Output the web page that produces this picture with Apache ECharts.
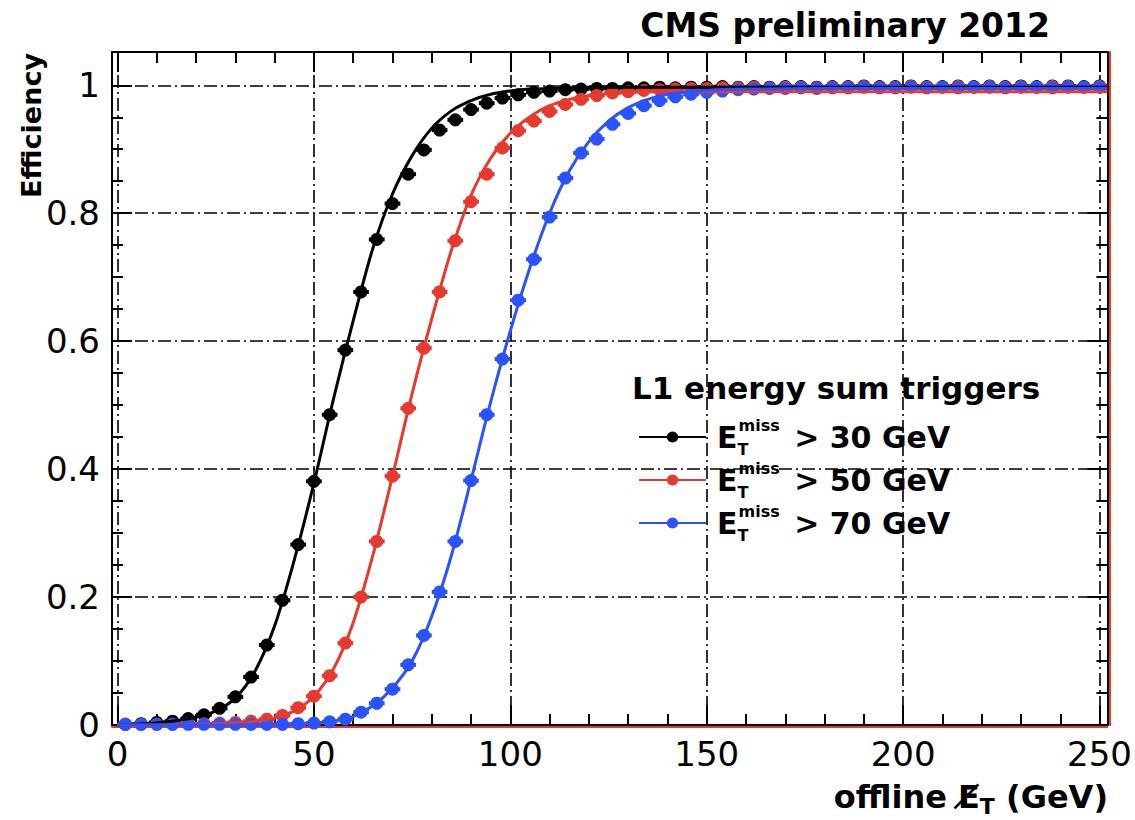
<!DOCTYPE html>
<html>
<head>
<meta charset="utf-8">
<script src="https://cdn.jsdelivr.net/npm/echarts@6.0.0/dist/echarts.min.js"></script>
<style>
  html, body { margin: 0; padding: 0; background: #fff; }
  #chart { width: 1135px; height: 820px; }
</style>
</head>
<body>
<div id="chart"></div>
<script>
// bin centres of the efficiency histograms (4 GeV bins)
var binCenters = [2, 6, 10, 14, 18, 22, 26, 30, 34, 38, 42, 46, 50, 54, 58, 62, 66, 70, 74, 78,
  82, 86, 90, 94, 98, 102, 106, 110, 114, 118, 122, 126, 130, 134, 138, 142, 146, 150, 154, 158,
  162, 166, 170, 174, 178, 182, 186, 190, 194, 198, 202, 206, 210, 214, 218, 222, 226, 230, 234, 238,
  242, 246, 250];
var binHalf = 2;

var effMet30 = [0.001, 0.002, 0.004, 0.006, 0.010, 0.016, 0.026, 0.044, 0.075, 0.125,
  0.195, 0.282, 0.381, 0.485, 0.586, 0.677, 0.759, 0.815, 0.861, 0.899,
  0.930, 0.946, 0.962, 0.972, 0.980, 0.985, 0.989, 0.991, 0.993, 0.994,
  0.995, 0.995, 0.996, 0.996, 0.997, 0.996, 0.997, 0.997, 0.998, 0.997,
  0.998, 0.997, 0.998, 0.998, 0.997, 0.998, 0.998, 0.999, 0.998, 0.998,
  0.999, 0.998, 0.998, 0.999, 0.998, 0.999, 0.998, 0.999, 0.998, 0.999,
  0.999, 0.998, 0.999];
var effMet50 = [0.001, 0.001, 0.001, 0.001, 0.002, 0.002, 0.003, 0.004, 0.006, 0.009,
  0.015, 0.027, 0.045, 0.077, 0.128, 0.200, 0.287, 0.389, 0.495, 0.589,
  0.677, 0.757, 0.818, 0.861, 0.902, 0.929, 0.944, 0.959, 0.970, 0.978,
  0.984, 0.988, 0.990, 0.992, 0.993, 0.994, 0.995, 0.995, 0.996, 0.996,
  0.997, 0.996, 0.997, 0.997, 0.996, 0.997, 0.997, 0.998, 0.997, 0.997,
  0.998, 0.997, 0.997, 0.998, 0.997, 0.998, 0.997, 0.998, 0.997, 0.998,
  0.998, 0.997, 0.998];
var effMet70 = [0.001, 0.001, 0.001, 0.001, 0.001, 0.001, 0.001, 0.001, 0.001, 0.001,
  0.001, 0.002, 0.003, 0.005, 0.009, 0.020, 0.034, 0.056, 0.094, 0.140,
  0.208, 0.287, 0.382, 0.485, 0.572, 0.664, 0.728, 0.794, 0.855, 0.894,
  0.916, 0.939, 0.956, 0.968, 0.976, 0.982, 0.986, 0.989, 0.991, 0.993,
  0.994, 0.995, 0.995, 0.996, 0.995, 0.996, 0.996, 0.997, 0.996, 0.996,
  0.997, 0.996, 0.997, 0.996, 0.997, 0.997, 0.996, 0.997, 0.997, 0.996,
  0.997, 0.997, 0.997];

// fitted turn-on curves
var fitX = [0, 10, 20, 25, 30, 35, 40, 45, 50, 55, 60, 65, 70, 75, 80, 85, 90, 95, 100, 105,
  110, 115, 120, 125, 130, 135, 140, 150, 160, 180, 200, 252];
var fit30 = [0.000, 0.003, 0.012, 0.022, 0.042, 0.084, 0.155, 0.258, 0.378, 0.510,
  0.632, 0.745, 0.830, 0.890, 0.933, 0.960, 0.976, 0.986, 0.991, 0.994,
  0.995, 0.996, 0.997, 0.997, 0.997, 0.997, 0.997, 0.997, 0.997, 0.997, 0.997, 0.997];
var fit50 = [0.000, 0.000, 0.001, 0.002, 0.004, 0.006, 0.011, 0.022, 0.045, 0.088,
  0.160, 0.265, 0.389, 0.518, 0.635, 0.742, 0.828, 0.886, 0.925, 0.951,
  0.968, 0.978, 0.984, 0.987, 0.989, 0.990, 0.990, 0.990, 0.990, 0.990, 0.990, 0.990];
var fit70 = [0.000, 0.000, 0.000, 0.000, 0.000, 0.000, 0.001, 0.001, 0.003, 0.006,
  0.013, 0.030, 0.058, 0.100, 0.170, 0.265, 0.383, 0.505, 0.616, 0.715,
  0.800, 0.866, 0.912, 0.944, 0.965, 0.978, 0.986, 0.992, 0.994, 0.995, 0.995, 0.995];

var thresholds = [30, 50, 70];
var seriesNames = ['ETmiss > 30 GeV', 'ETmiss > 50 GeV', 'ETmiss > 70 GeV'];

var xRange = [-1.4, 252];
var yRange = [0, 1.052];
var xMajor = [0, 50, 100, 150, 200, 250];
var xMinor = [10, 20, 30, 40, 60, 70, 80, 90, 110, 120, 130, 140, 160, 170, 180, 190, 210, 220, 230, 240];
var yMajor = [0, 0.2, 0.4, 0.6, 0.8, 1];
var yMinor = [0.05, 0.1, 0.15, 0.25, 0.3, 0.35, 0.45, 0.5, 0.55, 0.65, 0.7, 0.75, 0.85, 0.9, 0.95];

(function() {
  var font = '"DejaVu Sans", sans-serif';
  var ink = '#000';
  var red = '#e8392e';
  var blue = '#2a52ff';
  var colors = [ink, red, blue];
  var points = [effMet30, effMet50, effMet70];
  var fits = [fit30, fit50, fit70];
  var gridLine = { color: ink, width: 1.6, type: [13, 4, 2, 4] };

  // one axis per tick set (root style: ticks inside on all four sides)
  function frameAxis(dim, pos, ticks, len, opts) {
    var a = {
      type: 'value', position: pos,
      min: dim == 'x' ? xRange[0] : yRange[0],
      max: dim == 'x' ? xRange[1] : yRange[1],
      axisLine: { show: false, onZero: false },
      axisTick: { show: !!ticks, inside: true, length: len, customValues: ticks || [],
        lineStyle: { color: ink, width: 2 } },
      axisLabel: { show: false },
      splitLine: { show: false }
    };
    return Object.assign(a, opts || {});
  }
  function solidLine(color, width) {
    return { show: true, onZero: false, lineStyle: { color: color, width: width } };
  }

  var xAxes = [
    frameAxis('x', 'bottom', xMajor, 20, {
      axisLine: solidLine(ink, 2),
      axisLabel: { show: true, customValues: xMajor, color: ink, fontSize: 34, fontFamily: font, margin: 12 },
      splitLine: { show: true, lineStyle: gridLine }
    }),
    frameAxis('x', 'bottom', xMinor, 11),
    frameAxis('x', 'top', xMajor, 20, { axisLine: solidLine(ink, 2) }),
    frameAxis('x', 'top', xMinor, 11),
    frameAxis('x', 'bottom', null, 0, { offset: 2, axisLine: solidLine(red, 2) })
  ];
  var yAxes = [
    frameAxis('y', 'left', yMajor, 20, {
      axisLine: solidLine(ink, 2),
      axisLabel: { show: true, customValues: yMajor, color: ink, fontSize: 34, fontFamily: font, margin: 12 },
      splitLine: { show: true, lineStyle: gridLine }
    }),
    frameAxis('y', 'left', yMinor, 11),
    frameAxis('y', 'right', yMajor, 20, { axisLine: solidLine(ink, 2) }),
    frameAxis('y', 'right', yMinor, 11),
    frameAxis('y', 'right', null, 0, { offset: 2, axisLine: solidLine(red, 2) })
  ];

  var series = [];
  for (var s = 0; s < 3; s++) {
    var c = colors[s];
    var fitData = fitX.map(function(x, i) { return [x, fits[s][i]]; });
    var ptData = binCenters.map(function(x, i) { return [x, points[s][i]]; });
    series.push({
      name: seriesNames[s], type: 'line', data: fitData,
      smooth: 0.3,
      symbol: 'circle', symbolSize: 13, showSymbol: false,
      lineStyle: { color: c, width: 3 }, itemStyle: { color: c }
    });
    series.push({
      name: 'xerr' + thresholds[s], type: 'custom', data: ptData,
      renderItem: (function(col) {
        return function(params, api) {
          var x = api.value(0), y = api.value(1);
          var a = api.coord([x - binHalf, y]);
          var b = api.coord([x + binHalf, y]);
          return { type: 'line', shape: { x1: a[0], y1: a[1], x2: b[0], y2: b[1] },
            style: { stroke: col, lineWidth: 4 } };
        };
      })(c)
    });
    series.push({
      name: 'pts' + thresholds[s], type: 'scatter', data: ptData,
      symbol: 'circle', symbolSize: 13, itemStyle: { color: c, opacity: 1 }
    });
  }

  var chart = echarts.init(document.getElementById('chart'), null, { renderer: 'svg' });
  chart.setOption({
    animation: false,
    grid: { left: 112, right: 26, top: 52, bottom: 95, containLabel: false },
    xAxis: xAxes,
    yAxis: yAxes,
    legend: {
      data: seriesNames, orient: 'vertical', left: 633, top: 412,
      itemWidth: 67, itemHeight: 14, itemGap: 3, selectedMode: false,
      formatter: function(name) {
        return '{e|E}{t|T}{m|miss}{v|' + name.replace('ETmiss', '') + '}';
      },
      textStyle: {
        color: ink, fontFamily: font, fontWeight: 'bold',
        rich: {
          e: { fontSize: 30, fontWeight: 'bold', fontFamily: font, lineHeight: 40, verticalAlign: 'middle', padding: [0, 0, 0, 6] },
          t: { fontSize: 16, fontWeight: 'bold', fontFamily: font, lineHeight: 19, verticalAlign: 'bottom', width: 1 },
          m: { fontSize: 16, fontWeight: 'bold', fontFamily: font, lineHeight: 19, verticalAlign: 'top' },
          v: { fontSize: 30, fontWeight: 'bold', fontFamily: font, lineHeight: 40, verticalAlign: 'middle', padding: [0, 0, 0, 4] }
        }
      }
    },
    graphic: [
      { type: 'text', x: 1050, y: 25, style: { text: 'CMS preliminary 2012', fill: ink,
        font: 'bold 33px "DejaVu Sans"', align: 'right', verticalAlign: 'middle' } },
      { type: 'text', x: 31, y: 53, rotation: Math.PI / 2, style: { text: 'Efficiency', fill: ink,
        font: 'bold 27px "DejaVu Sans"', align: 'right', verticalAlign: 'middle' } },
      { type: 'text', x: 632, y: 388, style: { text: 'L1 energy sum triggers', fill: ink,
        font: 'bold 31px "DejaVu Sans"', align: 'left', verticalAlign: 'middle' } },
      { type: 'text', x: 1108, y: 797, style: {
        text: '{a|offline }{e|E\u0338}{t|T}{a| (GeV)}', align: 'right', verticalAlign: 'middle',
        rich: {
          a: { fontSize: 32, fontWeight: 'bold', fontFamily: font, fill: ink, lineHeight: 40, verticalAlign: 'middle' },
          e: { fontSize: 32, fontWeight: 'bold', fontFamily: font, fill: ink, lineHeight: 40, verticalAlign: 'middle' },
          t: { fontSize: 22, fontWeight: 'bold', fontFamily: font, fill: ink, lineHeight: 20, verticalAlign: 'bottom' }
        } } }
    ],
    series: series
  });
  window.addEventListener('resize', function() { chart.resize(); });
})();
</script>
</body>
</html>
